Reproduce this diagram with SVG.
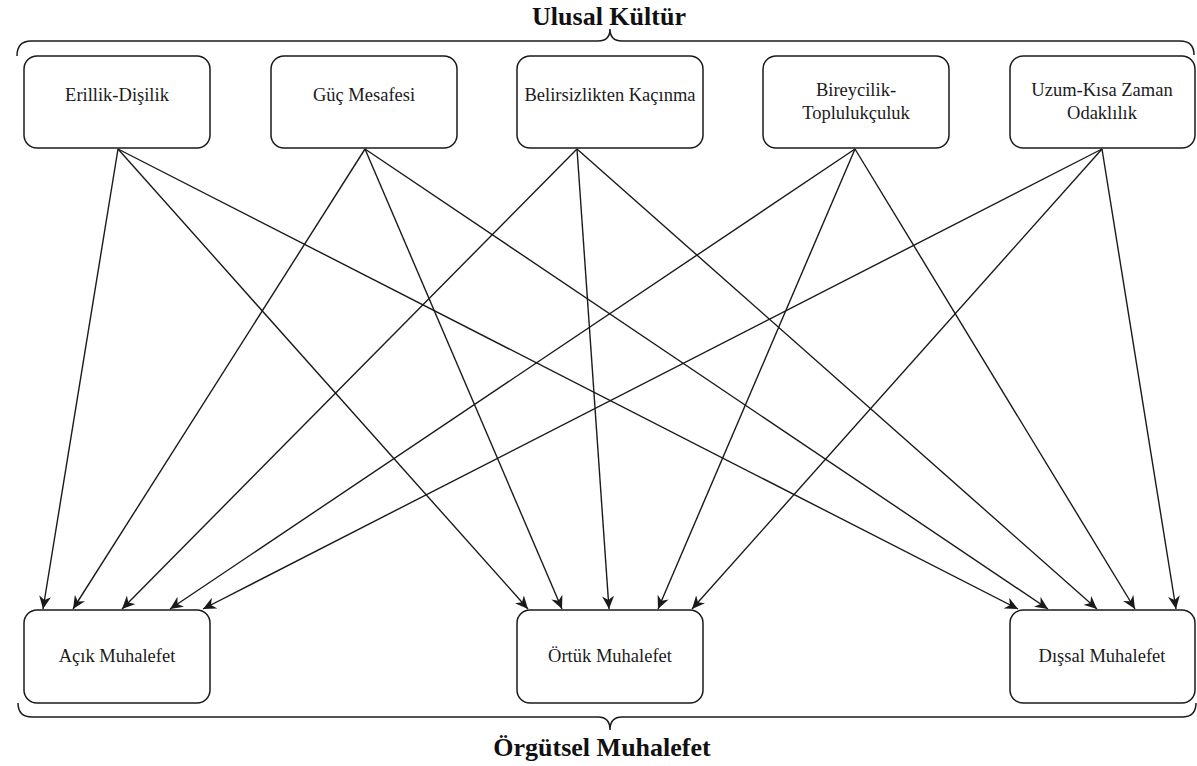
<svg xmlns="http://www.w3.org/2000/svg" width="1197" height="766" viewBox="0 0 1197 766">
<style>
.node rect{fill:#fff;stroke:#1a1a1a;stroke-width:1.5}
.node text{font-family:'Liberation Serif','DejaVu Serif','Times New Roman',serif;font-size:18.5px;fill:#1a1a1a;text-anchor:middle}
.title{font-family:'Liberation Serif','DejaVu Serif','Times New Roman',serif;font-size:26px;font-weight:bold;fill:#111;text-anchor:middle}
.brace{fill:none;stroke:#1a1a1a;stroke-width:1.5}
#connectors line{stroke:#1a1a1a;stroke-width:1.4;marker-end:url(#arr)}
</style>
<defs>
<marker id="arr" markerUnits="userSpaceOnUse" markerWidth="14" markerHeight="12" refX="13" refY="6" orient="auto" viewBox="0 0 14 12">
<path d="M0,0 L13,6 L0,12 L4,6 z" fill="#1a1a1a"/>
</marker>
</defs>
<rect width="1197" height="766" fill="#fff"/>
<g id="top-brace">
<path class="brace" d="M17,56 Q17,41 31,41 L598,41 Q610,41 610,29 Q610,41 622,41 L1180,41 Q1194,41 1194,55"/>
<text class="title" x="609" y="25">Ulusal Kültür</text>
</g>
<g id="bottom-brace">
<path class="brace" d="M18,703 Q18,717 32,717 L598,717 Q610,717 610,730 Q610,717 622,717 L1182,717 Q1196,717 1196,703"/>
<text class="title" x="602" y="756">Örgütsel Muhalefet</text>
</g>
<g id="n-erillik" class="node"><rect x="24" y="56" width="186" height="92" rx="13"/><text x="117" y="101">Erillik-Dişilik</text></g>
<g id="n-guc" class="node"><rect x="271" y="56" width="186" height="92" rx="13"/><text x="364" y="101">Güç Mesafesi</text></g>
<g id="n-belirsizlik" class="node"><rect x="517" y="56" width="186" height="92" rx="13"/><text x="610" y="101">Belirsizlikten Kaçınma</text></g>
<g id="n-bireycilik" class="node"><rect x="763" y="56" width="186" height="92" rx="13"/><text x="856" y="96">Bireycilik-</text><text x="856" y="119">Toplulukçuluk</text></g>
<g id="n-uzun" class="node"><rect x="1010" y="56" width="185" height="92" rx="13"/><text x="1102" y="96">Uzum-Kısa Zaman</text><text x="1102" y="119">Odaklılık</text></g>
<g id="n-acik" class="node"><rect x="24" y="610" width="186" height="93" rx="13"/><text x="117" y="662">Açık Muhalefet</text></g>
<g id="n-ortuk" class="node"><rect x="517" y="610" width="186" height="93" rx="13"/><text x="610" y="662">Örtük Muhalefet</text></g>
<g id="n-dissal" class="node"><rect x="1010" y="610" width="185" height="93" rx="13"/><text x="1102" y="662">Dışsal Muhalefet</text></g>
<g id="connectors">
<line x1="118" y1="149" x2="43" y2="609"/>
<line x1="118" y1="149" x2="528" y2="609"/>
<line x1="118" y1="149" x2="1018" y2="609"/>
<line x1="365" y1="149" x2="73" y2="609"/>
<line x1="365" y1="149" x2="562" y2="609"/>
<line x1="365" y1="149" x2="1048" y2="609"/>
<line x1="577" y1="149" x2="122" y2="609"/>
<line x1="577" y1="149" x2="609" y2="609"/>
<line x1="577" y1="149" x2="1097" y2="609"/>
<line x1="855" y1="149" x2="170" y2="609"/>
<line x1="855" y1="149" x2="658" y2="609"/>
<line x1="855" y1="149" x2="1135" y2="609"/>
<line x1="1102" y1="149" x2="203" y2="609"/>
<line x1="1102" y1="149" x2="692" y2="609"/>
<line x1="1102" y1="149" x2="1176" y2="609"/>
</g>
</svg>
